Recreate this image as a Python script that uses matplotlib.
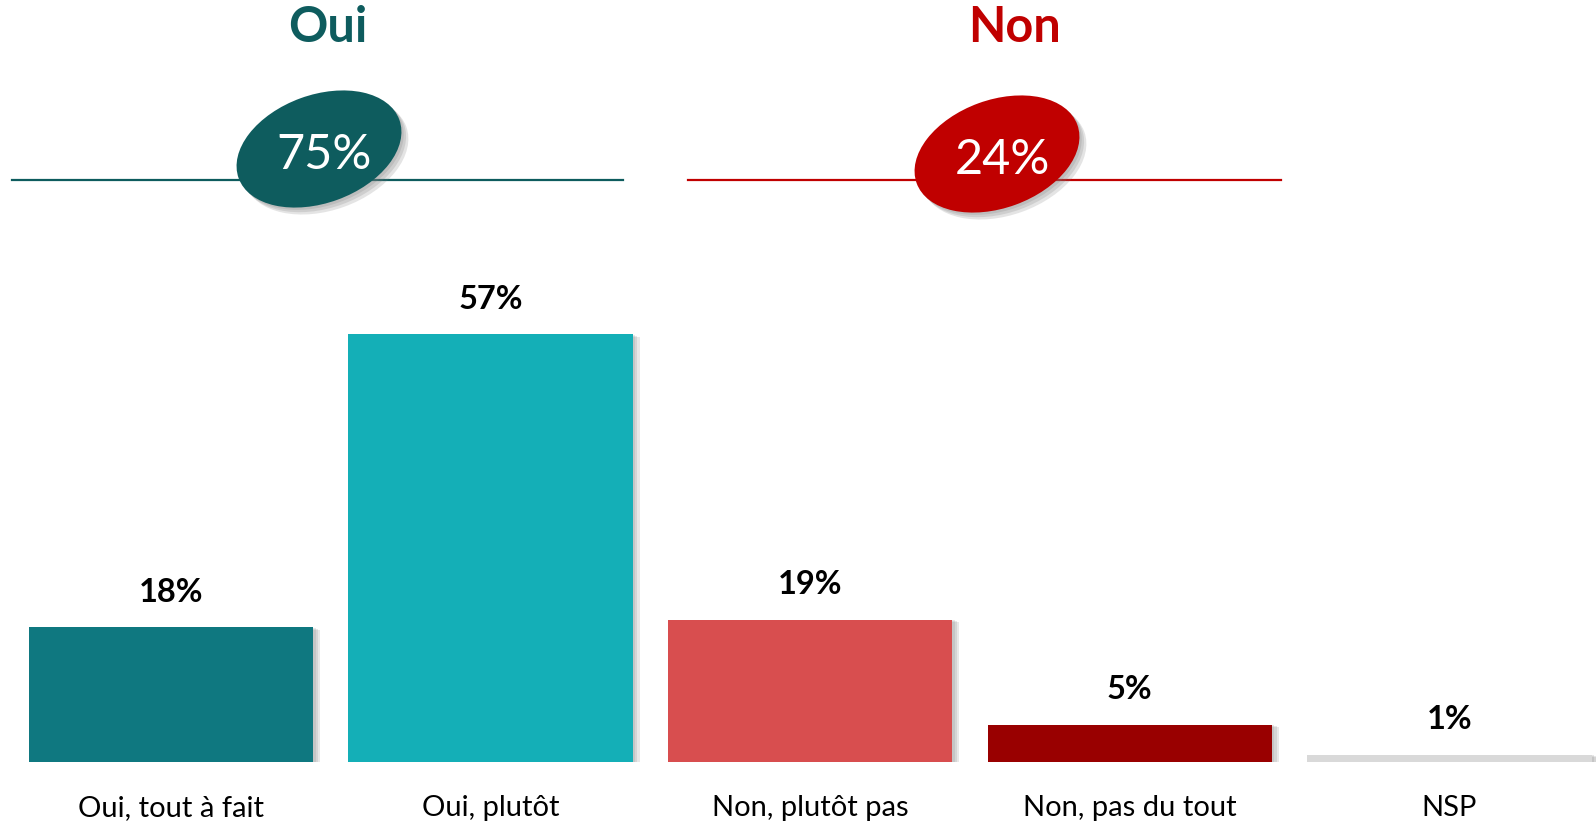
import matplotlib
matplotlib.use("Agg")
import matplotlib.pyplot as plt
from matplotlib.patches import Ellipse
import matplotlib.patheffects as pe

plt.rcParams['font.family'] = ['Lato', 'DejaVu Sans']

categories = ['Oui, tout à fait', 'Oui, plutôt', 'Non, plutôt pas', 'Non, pas du tout', 'NSP']
values = [18, 57, 19, 5, 1]
bar_colors = ['#0F7880', '#14AFB7', '#D84E4F', '#990000', '#D9D9D9']

groups = ['Oui', 'Non']
group_totals = [75, 24]
group_colors = ['#0E5C5E', '#C00000']

W, H = 1596, 822
fig = plt.figure(figsize=(W / 100, H / 100), dpi=100)


def soft_shadow(dx, dy, alpha):
    # a few stacked shadows to fake a blur
    return [pe.SimplePatchShadow(offset=(dx * k / 3, dy * k / 3), shadow_rgbFace='#7a7a7a', alpha=alpha)
            for k in (3, 2, 1)] + [pe.Normal()]


# bar chart
ax = fig.add_axes([0, 60 / H, 1, 762 / H])
x = list(range(len(values)))
bars = ax.bar(x, values, width=0.89, color=bar_colors, zorder=2)
for b in bars:
    b.set_path_effects(soft_shadow(5, -2, 0.17))
for xi, v in zip(x, values):
    ax.annotate(f'{v}%', (xi, v), xytext=(0, 25), textcoords='offset points',
                ha='center', va='center', fontsize=23.5, fontweight='bold', color='black')
ax.set_xlim(-0.535, 4.459)
ax.set_ylim(0, 101.6)
ax.set_xticks(x)
ax.set_xticklabels(categories, fontsize=21)
ax.tick_params(axis='x', length=0, pad=24)
ax.set_yticks([])
for s in ax.spines.values():
    s.set_visible(False)

# header overlay in pixel coordinates (y down)
ov = fig.add_axes([0, 0, 1, 1], zorder=3)
ov.set_xlim(0, W)
ov.set_ylim(H, 0)
ov.axis('off')
ov.patch.set_alpha(0)

header = [
    # title x, line x0, x1, ellipse center
    (328, 12, 623, 319, 149),
    (1014, 688, 1281, 997, 154),
]
for (tx, lx0, lx1, ex, ey), g, tot, c in zip(header, groups, group_totals, group_colors):
    ov.text(tx, 28, g, ha='center', va='center', fontsize=35, fontweight='bold', color=c)
    ov.plot([lx0, lx1], [180, 180], color=c, lw=1.6, zorder=1)
    e = Ellipse((ex, ey), 171, 108, angle=-20, facecolor=c, edgecolor='none', zorder=2)
    e.set_path_effects(soft_shadow(5, -5, 0.2))
    ov.add_patch(e)
    ov.text(ex + 5, ey + 6, f'{tot}%', ha='center', va='center', fontsize=35, color='white', zorder=3)

fig.savefig('out.png', dpi=100)
